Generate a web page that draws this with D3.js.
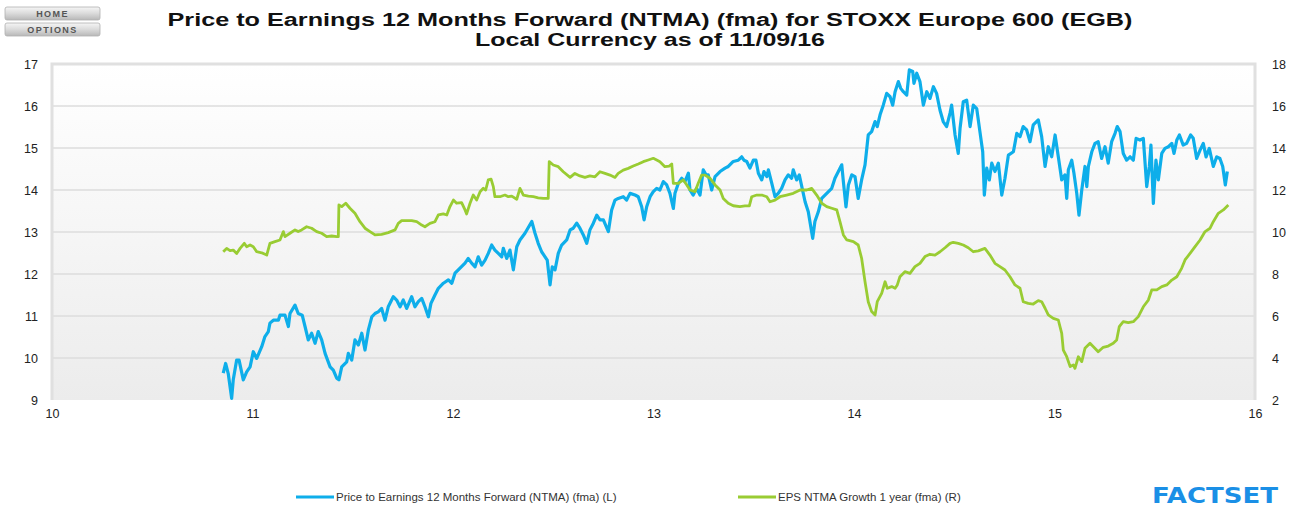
<!DOCTYPE html>
<html>
<head>
<meta charset="utf-8">
<script src="https://cdn.jsdelivr.net/npm/d3@7"></script>
<style>
  html, body { margin: 0; padding: 0; background: #ffffff; }
  svg { display: block; font-family: "Liberation Sans", Arial, sans-serif; }
</style>
</head>
<body>
<svg id="chart" width="1293" height="508"></svg>
<script>
// ---------------- DATA ----------------
const titleLines = [
  "Price to Earnings 12 Months Forward (NTMA) (fma) for STOXX Europe 600 (EGB)",
  "Local Currency as of 11/09/16"
];
const buttons = ["HOME", "OPTIONS"];
const xTicks = [10, 11, 12, 13, 14, 15, 16];
const yLeftTicks = [9, 10, 11, 12, 13, 14, 15, 16, 17];
const yRightTicks = [2, 4, 6, 8, 10, 12, 14, 16, 18];
const seriesNames = [
  "Price to Earnings 12 Months Forward (NTMA) (fma) (L)",
  "EPS NTMA Growth 1 year (fma) (R)"
];

// Price to Earnings NTMA (left axis) : [year (2-digit decimal), value]
const peSeries = [
  [10.854,9.64],[10.866,9.87],[10.879,9.63],[10.896,9.04],[10.904,9.48],[10.921,9.95],[10.933,9.95],
  [10.954,9.48],[10.971,9.67],[10.988,9.79],[11.004,10.15],[11.021,9.99],[11.046,10.27],[11.062,10.51],
  [11.079,10.63],[11.087,10.83],[11.104,10.90],[11.129,10.90],[11.137,11.02],[11.162,11.02],[11.179,10.75],
  [11.187,11.06],[11.212,11.26],[11.228,11.06],[11.248,11.02],[11.262,10.75],[11.278,10.43],[11.295,10.59],
  [11.312,10.35],[11.328,10.63],[11.345,10.43],[11.362,10.11],[11.387,9.79],[11.403,9.71],[11.420,9.52],
  [11.431,9.48],[11.445,9.79],[11.470,9.91],[11.478,10.11],[11.495,9.95],[11.511,10.43],[11.528,10.31],
  [11.545,10.59],[11.561,10.19],[11.578,10.67],[11.595,10.98],[11.611,11.06],[11.627,11.10],[11.644,11.18],
  [11.661,10.90],[11.677,11.22],[11.702,11.46],[11.719,11.38],[11.736,11.22],[11.752,11.38],[11.769,11.18],
  [11.794,11.46],[11.810,11.22],[11.827,11.34],[11.844,11.42],[11.860,11.22],[11.877,10.98],[11.890,11.30],
  [11.910,11.50],[11.927,11.66],[11.952,11.78],[11.977,11.86],[11.994,11.78],[12.010,12.02],[12.035,12.14],
  [12.060,12.26],[12.076,12.37],[12.093,12.26],[12.110,12.17],[12.126,12.41],[12.143,12.21],[12.160,12.33],
  [12.176,12.49],[12.193,12.69],[12.209,12.57],[12.226,12.49],[12.243,12.41],[12.251,12.61],[12.268,12.37],
  [12.284,12.57],[12.301,12.10],[12.318,12.65],[12.334,12.81],[12.359,12.97],[12.393,13.25],[12.409,12.97],
  [12.425,12.73],[12.442,12.53],[12.459,12.41],[12.470,12.33],[12.484,11.74],[12.495,12.17],[12.509,12.10],
  [12.525,12.49],[12.542,12.69],[12.567,12.81],[12.584,13.05],[12.600,13.09],[12.617,13.21],[12.633,13.09],
  [12.650,12.93],[12.667,12.73],[12.683,13.05],[12.700,13.21],[12.717,13.40],[12.733,13.29],[12.750,13.29],
  [12.775,13.01],[12.791,13.52],[12.808,13.76],[12.824,13.80],[12.849,13.84],[12.866,13.76],[12.883,13.92],
  [12.908,13.88],[12.924,13.84],[12.941,13.60],[12.953,13.29],[12.966,13.60],[12.983,13.84],[12.999,13.96],
  [13.016,14.04],[13.032,14.00],[13.049,14.20],[13.066,14.12],[13.082,13.92],[13.099,13.56],[13.107,13.92],
  [13.124,14.16],[13.141,14.28],[13.157,14.20],[13.174,14.40],[13.182,14.00],[13.198,13.88],[13.215,14.04],
  [13.232,13.88],[13.248,14.48],[13.262,14.36],[13.273,14.36],[13.290,14.00],[13.307,14.32],[13.332,14.44],
  [13.357,14.52],[13.373,14.56],[13.398,14.68],[13.423,14.71],[13.440,14.79],[13.451,14.71],[13.465,14.68],
  [13.481,14.52],[13.498,14.71],[13.511,14.71],[13.523,14.40],[13.540,14.24],[13.551,14.44],[13.565,14.32],
  [13.573,14.48],[13.590,14.16],[13.606,13.84],[13.622,13.92],[13.639,14.04],[13.656,14.24],[13.672,14.36],
  [13.689,14.28],[13.697,14.48],[13.714,14.24],[13.727,14.36],[13.756,13.72],[13.772,13.48],[13.794,12.85],
  [13.805,13.25],[13.822,13.48],[13.839,13.80],[13.864,13.92],[13.889,14.04],[13.905,14.28],[13.922,14.44],
  [13.939,14.60],[13.947,14.20],[13.960,13.60],[13.972,14.12],[13.989,14.36],[14.005,14.32],[14.021,13.80],
  [14.038,14.24],[14.055,14.60],[14.071,15.31],[14.088,15.39],[14.105,15.63],[14.116,15.51],[14.130,15.79],
  [14.146,16.02],[14.163,16.30],[14.180,16.22],[14.193,16.02],[14.205,16.34],[14.221,16.58],[14.233,16.42],
  [14.246,16.34],[14.263,16.26],[14.276,16.86],[14.293,16.82],[14.299,16.54],[14.313,16.78],[14.329,16.58],
  [14.346,16.02],[14.363,16.34],[14.379,16.18],[14.396,16.46],[14.412,16.30],[14.429,15.90],[14.445,15.63],
  [14.462,15.51],[14.479,15.83],[14.487,16.02],[14.504,15.31],[14.520,14.87],[14.529,15.47],[14.545,16.10],
  [14.562,16.14],[14.579,15.51],[14.595,16.02],[14.612,15.94],[14.628,15.39],[14.642,14.91],[14.650,13.88],
  [14.662,14.52],[14.675,14.24],[14.687,14.64],[14.703,14.44],[14.720,14.64],[14.737,13.88],[14.753,14.28],
  [14.770,14.83],[14.795,14.91],[14.812,15.35],[14.828,15.27],[14.844,15.51],[14.861,15.43],[14.878,15.15],
  [14.894,15.55],[14.919,15.67],[14.936,15.27],[14.953,14.56],[14.969,15.03],[14.986,14.79],[15.003,15.31],
  [15.019,14.79],[15.036,14.24],[15.052,14.36],[15.061,13.80],[15.069,14.48],[15.086,14.71],[15.097,14.40],
  [15.111,13.92],[15.122,13.40],[15.136,14.00],[15.152,14.56],[15.161,14.08],[15.169,14.56],[15.186,14.91],
  [15.202,15.11],[15.218,15.15],[15.235,14.75],[15.252,15.03],[15.268,14.64],[15.285,15.15],[15.302,15.35],
  [15.313,15.51],[15.327,15.39],[15.343,14.87],[15.360,14.71],[15.377,14.79],[15.393,14.71],[15.407,15.23],
  [15.426,15.19],[15.443,15.23],[15.460,14.08],[15.473,14.56],[15.481,15.07],[15.493,13.68],[15.506,14.71],
  [15.518,14.24],[15.535,14.87],[15.551,14.99],[15.568,15.03],[15.585,15.11],[15.596,14.87],[15.610,15.19],
  [15.623,15.31],[15.642,15.07],[15.659,15.11],[15.679,15.31],[15.692,15.23],[15.709,14.75],[15.726,14.95],
  [15.742,15.11],[15.756,14.79],[15.772,14.99],[15.792,14.56],[15.809,14.79],[15.825,14.75],[15.839,14.56],
  [15.852,14.12],[15.862,14.44]
];

// EPS NTMA Growth 1 year (right axis) : [year, value]
const epsSeries = [
  [10.854,9.06],[10.871,9.22],[10.888,9.11],[10.904,9.14],[10.921,8.98],[10.938,9.22],[10.959,9.46],
  [10.971,9.30],[10.988,9.38],[11.004,9.30],[11.021,9.06],[11.046,9.01],[11.071,8.90],[11.087,9.46],
  [11.112,9.54],[11.137,9.62],[11.154,10.02],[11.162,9.78],[11.187,9.94],[11.212,10.10],[11.228,10.02],
  [11.245,10.10],[11.270,10.25],[11.295,10.18],[11.320,10.02],[11.345,9.94],[11.370,9.78],[11.395,9.81],
  [11.420,9.78],[11.428,9.78],[11.431,11.29],[11.445,11.21],[11.465,11.37],[11.486,11.13],[11.511,10.89],
  [11.536,10.49],[11.561,10.18],[11.586,10.02],[11.611,9.86],[11.644,9.89],[11.677,9.97],[11.711,10.10],
  [11.727,10.41],[11.744,10.54],[11.769,10.54],[11.794,10.54],[11.819,10.49],[11.844,10.33],[11.860,10.25],
  [11.885,10.41],[11.910,10.49],[11.927,10.81],[11.952,10.86],[11.969,10.81],[11.985,11.21],[12.002,11.52],
  [12.018,11.37],[12.043,11.40],[12.060,11.05],[12.068,10.86],[12.085,11.37],[12.101,11.76],[12.118,11.52],
  [12.135,11.92],[12.151,12.08],[12.163,12.00],[12.176,12.48],[12.190,12.52],[12.201,12.16],[12.209,11.68],
  [12.234,11.68],[12.259,11.76],[12.276,11.68],[12.293,11.71],[12.318,11.56],[12.334,12.08],[12.351,11.76],
  [12.376,11.71],[12.401,11.68],[12.425,11.63],[12.450,11.60],[12.475,11.60],[12.480,13.35],[12.500,13.19],
  [12.525,13.11],[12.550,12.87],[12.584,12.60],[12.608,12.79],[12.633,12.67],[12.658,12.60],[12.683,12.67],
  [12.708,12.63],[12.733,12.87],[12.758,12.79],[12.783,12.71],[12.808,12.60],[12.824,12.79],[12.849,12.95],
  [12.874,13.03],[12.899,13.14],[12.924,13.24],[12.949,13.35],[12.974,13.43],[12.999,13.51],[13.016,13.43],
  [13.032,13.35],[13.057,13.11],[13.079,13.14],[13.091,13.24],[13.099,12.32],[13.124,12.32],[13.149,12.48],
  [13.166,12.24],[13.182,12.00],[13.207,11.92],[13.223,12.32],[13.240,12.71],[13.257,12.71],[13.282,12.56],
  [13.307,12.24],[13.332,12.00],[13.348,11.60],[13.373,11.37],[13.398,11.25],[13.431,11.21],[13.456,11.24],
  [13.478,11.24],[13.490,11.68],[13.515,11.76],[13.540,11.76],[13.565,11.68],[13.581,11.44],[13.606,11.52],
  [13.631,11.68],[13.664,11.76],[13.697,11.84],[13.731,12.00],[13.764,12.00],[13.789,12.08],[13.814,11.76],
  [13.839,11.37],[13.864,11.21],[13.889,11.13],[13.914,11.05],[13.930,10.49],[13.947,9.86],[13.964,9.62],
  [13.997,9.54],[14.021,9.38],[14.038,8.75],[14.055,7.63],[14.071,6.68],[14.088,6.21],[14.105,6.05],
  [14.116,6.68],[14.138,7.08],[14.155,7.63],[14.166,7.32],[14.188,7.40],[14.205,7.32],[14.216,7.48],
  [14.229,7.87],[14.254,8.11],[14.279,8.03],[14.304,8.35],[14.329,8.51],[14.354,8.83],[14.379,8.94],
  [14.404,8.90],[14.429,9.06],[14.454,9.25],[14.479,9.46],[14.495,9.51],[14.520,9.46],[14.545,9.38],
  [14.570,9.25],[14.595,9.06],[14.620,9.10],[14.653,9.22],[14.678,8.90],[14.703,8.51],[14.728,8.35],
  [14.753,8.19],[14.778,7.87],[14.803,7.48],[14.828,7.32],[14.844,6.68],[14.869,6.60],[14.894,6.57],
  [14.919,6.73],[14.936,6.68],[14.953,6.37],[14.969,6.05],[14.994,5.89],[15.019,5.81],[15.036,5.17],
  [15.044,4.38],[15.061,4.06],[15.078,3.59],[15.094,3.67],[15.102,3.51],[15.119,4.06],[15.136,3.83],
  [15.152,4.46],[15.177,4.70],[15.194,4.54],[15.218,4.30],[15.243,4.51],[15.268,4.57],[15.293,4.70],
  [15.310,4.86],[15.323,5.49],[15.343,5.73],[15.368,5.68],[15.393,5.73],[15.418,5.97],[15.443,6.44],
  [15.468,6.76],[15.485,7.24],[15.510,7.24],[15.535,7.40],[15.560,7.48],[15.585,7.71],[15.610,7.87],
  [15.634,8.27],[15.651,8.67],[15.676,8.98],[15.701,9.30],[15.726,9.62],[15.751,10.02],[15.776,10.18],
  [15.792,10.49],[15.817,10.89],[15.842,11.05],[15.867,11.29]
];

// ---------------- CHART ----------------
const W = 1293, H = 508;
const margin = { left: 52, right: 38, top: 64, bottom: 108 };
const svg = d3.select("#chart");

const x = d3.scaleLinear().domain([10, 16]).range([margin.left, W - margin.right]);
const yL = d3.scaleLinear().domain([9, 17]).range([H - margin.bottom, margin.top]);
const yR = d3.scaleLinear().domain([2, 18]).range([H - margin.bottom, margin.top]);

const defs = svg.append("defs");
const bg = defs.append("linearGradient").attr("id", "plotbg").attr("x1", 0).attr("y1", 0).attr("x2", 0).attr("y2", 1);
bg.append("stop").attr("offset", "0%").attr("stop-color", "#ffffff");
bg.append("stop").attr("offset", "100%").attr("stop-color", "#ececec");
const bt = defs.append("linearGradient").attr("id", "btnbg").attr("x1", 0).attr("y1", 0).attr("x2", 0).attr("y2", 1);
bt.append("stop").attr("offset", "0%").attr("stop-color", "#f6f6f6");
bt.append("stop").attr("offset", "50%").attr("stop-color", "#dadada");
bt.append("stop").attr("offset", "100%").attr("stop-color", "#b8b8b8");

// buttons
const btn = svg.append("g").selectAll("g").data(buttons).join("g")
  .attr("transform", (d, i) => `translate(5,${7 + i * 16})`);
btn.append("rect").attr("width", 95).attr("height", 13).attr("rx", 2)
  .attr("fill", "url(#btnbg)").attr("stroke", "#b0b0b0").attr("stroke-width", 0.8);
btn.append("text").attr("x", 47.5).attr("y", 10).attr("text-anchor", "middle")
  .attr("font-size", 9).attr("font-weight", "bold").attr("letter-spacing", 1.4)
  .attr("fill", "#555").text(d => d);

// title
const titleWidths = [965, 350];
svg.append("g").selectAll("text").data(titleLines).join("text")
  .attr("x", 650).attr("y", (d, i) => 26 + i * 20)
  .attr("text-anchor", "middle").attr("font-size", 18).attr("font-weight", "bold")
  .attr("textLength", (d, i) => titleWidths[i]).attr("lengthAdjust", "spacingAndGlyphs")
  .attr("fill", "#111").text(d => d);

// plot background
const pw = x(16) - x(10), ph = yL(9) - yL(17);
svg.append("rect").attr("x", x(10)).attr("y", yL(17)).attr("width", pw).attr("height", ph)
  .attr("fill", "url(#plotbg)");

// gridlines
svg.append("g").selectAll("line").data(yLeftTicks.filter(d => d > 9 && d < 17)).join("line")
  .attr("x1", x(10)).attr("x2", x(16)).attr("y1", d => yL(d)).attr("y2", d => yL(d))
  .attr("stroke", "#dcdcdc").attr("stroke-width", 1.3);

// border (left, top, right)
svg.append("path")
  .attr("d", `M${x(10)},${yL(9)}V${yL(17)}H${x(16)}V${yL(9)}`)
  .attr("fill", "none").attr("stroke", "#e0e0e0").attr("stroke-width", 3);

// axes
const axL = svg.append("g").attr("transform", `translate(${x(10) - 14},0)`)
  .call(d3.axisLeft(yL).tickValues(yLeftTicks).tickSize(0).tickPadding(0));
const axR = svg.append("g").attr("transform", `translate(${x(16) + 17},0)`)
  .call(d3.axisRight(yR).tickValues(yRightTicks).tickSize(0).tickPadding(0));
const axB = svg.append("g").attr("transform", `translate(0,${yL(9) + 7})`)
  .call(d3.axisBottom(x).tickValues(xTicks).tickFormat(d3.format("d")).tickSize(0).tickPadding(0));
[axL, axR, axB].forEach(a => {
  a.select(".domain").remove();
  a.selectAll("text").attr("font-family", "'Liberation Sans', Arial, sans-serif")
    .attr("font-size", 12.5).attr("fill", "#222");
});
axB.selectAll("text").attr("dy", "0.9em");

// lines
const lineL = d3.line().x(d => x(d[0])).y(d => yL(d[1])).curve(d3.curveLinear);
const lineR = d3.line().x(d => x(d[0])).y(d => yR(d[1])).curve(d3.curveLinear);
svg.append("path").datum(peSeries).attr("d", lineL).attr("fill", "none")
  .attr("stroke", "#0eaeea").attr("stroke-width", 3.2).attr("stroke-linejoin", "round");
svg.append("path").datum(epsSeries).attr("d", lineR).attr("fill", "none")
  .attr("stroke", "#99cc33").attr("stroke-width", 2.8).attr("stroke-linejoin", "round");

// legend
const legendColors = ["#0eaeea", "#99cc33"];
const legendX = [296, 738];
const lg = svg.append("g").selectAll("g").data(seriesNames).join("g")
  .attr("transform", (d, i) => `translate(${legendX[i]},497)`);
lg.append("line").attr("x1", 0).attr("x2", 38).attr("y1", 0).attr("y2", 0)
  .attr("stroke", (d, i) => legendColors[i]).attr("stroke-width", 3);
lg.append("text").attr("x", 40).attr("y", 4).attr("font-size", 11.5).attr("fill", "#333").text(d => d);

// logo
svg.append("text").attr("x", 1152).attr("y", 503).attr("font-family", "'DejaVu Sans', sans-serif")
  .attr("font-weight", "bold").attr("font-size", 22)
  .attr("fill", "#1a8fe6").attr("textLength", 126).attr("lengthAdjust", "spacingAndGlyphs").text("FACTSET");
</script>
</body>
</html>
